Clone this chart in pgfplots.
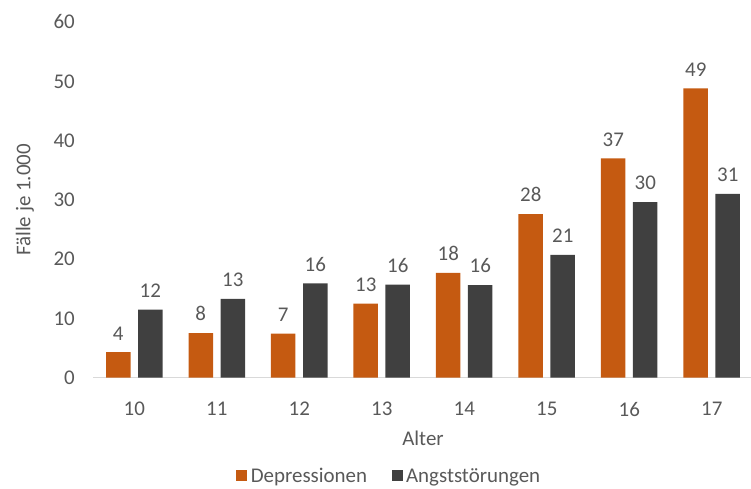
\documentclass[border=0pt]{standalone}
\usepackage{pgfplots}
\pgfplotsset{compat=1.18}
\usepackage{fontspec}
\setmainfont{Carlito}
\definecolor{dep}{HTML}{C55A11}
\definecolor{ang}{HTML}{404040}
\definecolor{txt}{HTML}{595959}
\definecolor{basecol}{HTML}{D9D9D9}
\newcommand{\chartfont}{\fontsize{21}{25}\selectfont}
\begin{document}
\begin{tikzpicture}
\useasboundingbox (0,0) rectangle (751bp,489bp);
\begin{axis}[
  at={(93bp,111.3bp)}, anchor=south west,
  scale only axis, width=660bp, height=355.7bp,
  xmin=9.5, xmax=17.5, ymin=0, ymax=60,
  ybar=7.5bp, bar width=24.5bp,
  axis x line*=bottom, axis y line*=left,
  x axis line style={draw=basecol, line width=1.2bp, -},
  y axis line style={draw=none},
  xtick={10,...,17}, ytick={0,10,...,60},
  major tick length=0pt,
  /pgf/number format/assume math mode=true,
  tick label style={font=\chartfont, text=txt},
  yticklabel style={inner sep=0pt, xshift=-18bp},
  xticklabel style={inner sep=0pt, anchor=north, yshift=-24bp},
  xlabel={Alter}, ylabel={Fälle je 1.000},
  every axis x label/.style={at={(axis description cs:0.5,0)}, anchor=center, yshift=-60.3bp, font=\chartfont, text=txt},
  every axis y label/.style={at={(axis description cs:0,0.5)}, rotate=90, anchor=center, yshift=68bp, font=\chartfont, text=txt},
  point meta=explicit symbolic,
  nodes near coords,
  every node near coord/.append style={font=\chartfont, text=txt, anchor=south, inner sep=0pt, yshift=12bp},
  legend columns=2,
  legend style={at={(axis description cs:0.45,-0.276)}, anchor=center, draw=none, fill=none, font=\chartfont, text=txt, inner sep=0pt,
    nodes={inner sep=3.5bp}, /tikz/every even column/.append style={column sep=21bp}},
  legend image code/.code={\fill[#1, draw=none] (0bp,-5.5bp) rectangle (11bp,5.5bp);},
]
\addplot[fill=dep, draw=none] table[meta=lab] {
x y lab
10 4.3 4
11 7.5 8
12 7.45 7
13 12.5 13
14 17.7 18
15 27.6 28
16 37.0 37
17 48.8 49
};
\addplot[fill=ang, draw=none] table[meta=lab] {
x y lab
10 11.5 12
11 13.3 13
12 15.9 16
13 15.7 16
14 15.6 16
15 20.7 21
16 29.6 30
17 31.0 31
};
\legend{Depressionen, Angststörungen}
\end{axis}
\end{tikzpicture}
\end{document}
